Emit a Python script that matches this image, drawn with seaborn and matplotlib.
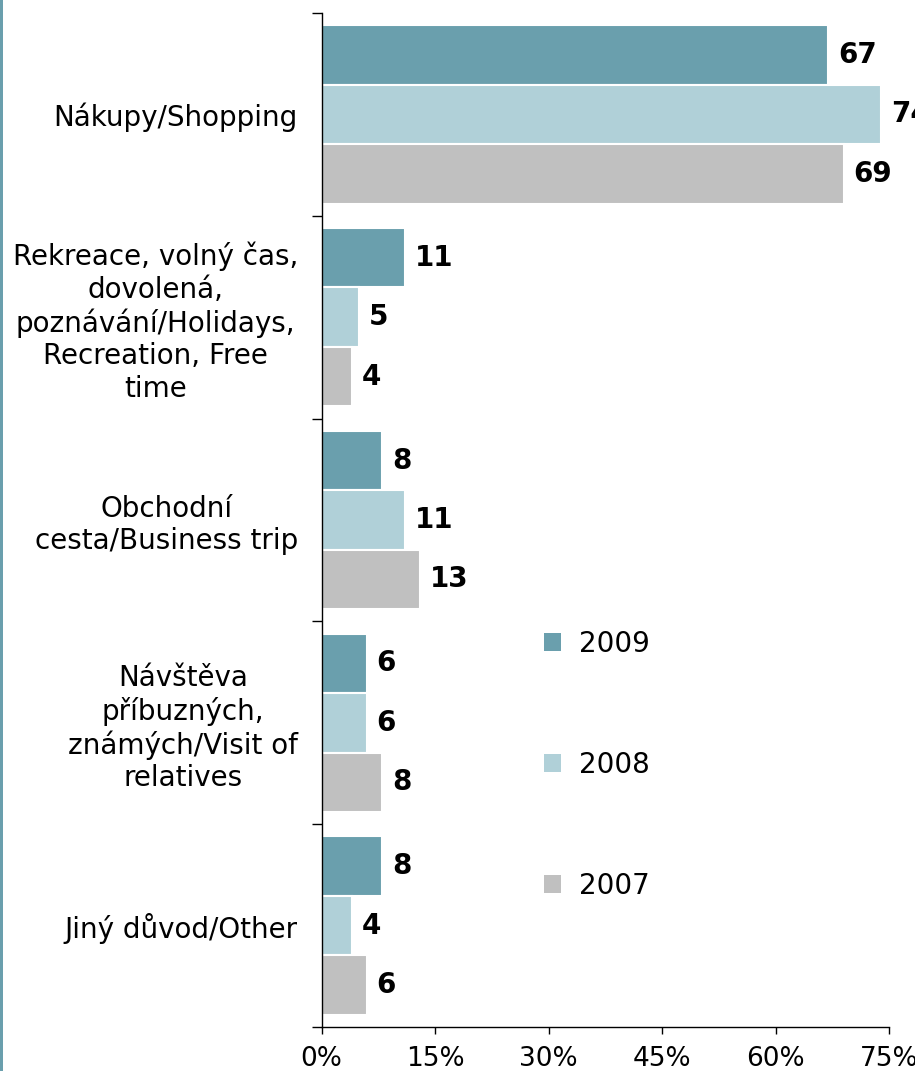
import matplotlib
matplotlib.use("Agg")
import matplotlib.pyplot as plt
import seaborn as sns
import pandas as pd
from matplotlib.patches import Patch, Rectangle
from matplotlib.ticker import FixedLocator, PercentFormatter

categories = [
    "Nákupy/Shopping",
    "Rekreace, volný čas,\ndovolená,\npoznávání/Holidays,\nRecreation, Free\ntime",
    "Obchodní\ncesta/Business trip",
    "Návštěva\npříbuzných,\nznámých/Visit of\nrelatives",
    "Jiný důvod/Other",
]
years = ["2009", "2008", "2007"]
values_2009 = [67, 11, 8, 6, 8]
values_2008 = [74, 5, 11, 6, 4]
values_2007 = [69, 4, 13, 8, 6]
colors = ["#6A9FAD", "#B0D0D8", "#C0C0C0"]

rows = []
for year, vals in zip(years, [values_2009, values_2008, values_2007]):
    for cat, v in zip(categories, vals):
        rows.append({"category": cat, "year": year, "value": v})
df = pd.DataFrame(rows)

sns.set_style("white")
plt.rcParams["font.family"] = ["DejaVu Sans"]
plt.rcParams["text.color"] = "black"
plt.rcParams["xtick.color"] = "black"
plt.rcParams["ytick.color"] = "black"

fig = plt.figure(figsize=(9.15, 10.71), dpi=100)
ax = fig.add_axes([321.5 / 915, 1 - 1027 / 1071, (889 - 321.5) / 915, (1027 - 13) / 1071])

sns.barplot(data=df, x="value", y="category", hue="year", orient="h",
            palette=colors, saturation=1, width=0.88, edgecolor="white",
            linewidth=1.5, legend=False, ax=ax)

for cont in ax.containers:
    ax.bar_label(cont, fmt="%.0f", padding=7, fontsize=20, fontweight="bold",
                 color="black")

ax.set_xlim(0, 75)
ax.set_ylim(4.5, -0.5)
ax.set_xlabel("")
ax.set_ylabel("")
ax.set_xticks([0, 15, 30, 45, 60, 75])
ax.xaxis.set_major_formatter(PercentFormatter(decimals=0))
ax.tick_params(axis="x", which="major", direction="out", length=5, width=1,
               pad=9, labelsize=19, bottom=True)

# category labels without ticks, boundary ticks as minor ticks
ax.set_yticks(range(len(categories)))
ax.set_yticklabels(categories, multialignment="center")
ax.tick_params(axis="y", which="major", length=0, pad=17, labelsize=20)
ax.yaxis.set_minor_locator(FixedLocator([-0.5, 0.5, 1.5, 2.5, 3.5, 4.5]))
ax.tick_params(axis="y", which="minor", direction="out", length=7, width=1, left=True)

for s in ["top", "right"]:
    ax.spines[s].set_visible(False)
for s in ["left", "bottom"]:
    ax.spines[s].set_color("black")
    ax.spines[s].set_linewidth(1)
ax.grid(False)

handles = [Patch(facecolor=c, edgecolor="none") for c in colors]
fig.legend(handles, years, loc="upper left", bbox_to_anchor=(530 / 915, 1 - 616 / 1071),
           frameon=False, fontsize=20, handlelength=0.6, handleheight=0.6,
           handletextpad=0.65, labelspacing=3.35, borderpad=0)

fig.add_artist(Rectangle((0, 0), 3 / 915, 1, transform=fig.transFigure,
                         color="#6A9FAD", lw=0))

fig.savefig("out.png", dpi=100)
